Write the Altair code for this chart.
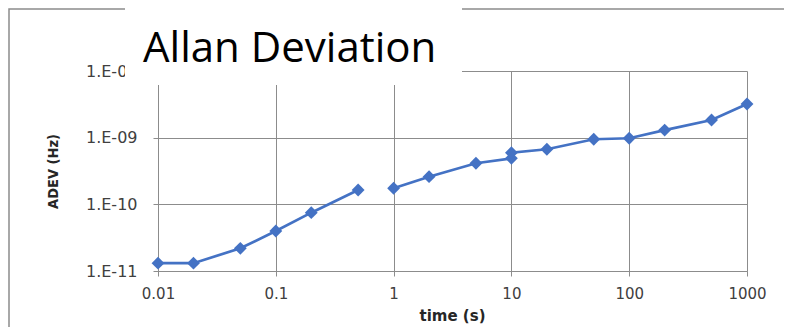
import altair as alt
import pandas as pd

# ---- data ----
tau = [0.01, 0.02, 0.05, 0.1, 0.2, 0.5,
       1, 2, 5, 10, 10, 20, 50, 100, 200, 500, 1000]
adev = [1.31e-11, 1.31e-11, 2.19e-11, 3.98e-11, 7.5e-11, 1.64e-10,
        1.74e-10, 2.6e-10, 4.13e-10, 4.9e-10, 5.96e-10, 6.7e-10, 9.46e-10,
        9.8e-10, 1.3e-9, 1.84e-9, 3.2e-9]
segment = ["a"] * 6 + ["b"] * 11

x_ticks = [0.01, 0.1, 1, 10, 100, 1000]
x_tick_labels = ["0.01", "0.1", "1", "10", "100", "1000"]
y_ticks = [1e-11, 1e-10, 1e-9, 1e-8]
y_tick_labels = ["1.E-11", "1.E-10", "1.E-09", "1.E-08"]

title_text = "Allan Deviation"
x_title = "time (s)"
y_title = "ADEV (Hz)"

df = pd.DataFrame({"tau": tau, "adev": adev, "seg": segment,
                   "idx": list(range(len(tau)))})

def label_expr(vals, labels):
    parts = []
    for v, l in zip(vals, labels):
        parts.append(f"abs(datum.value - {v!r}) < {abs(v) * 1e-6!r} ? '{l}'")
    return " : ".join(parts) + " : ''"

GRID = "#8c8c8c"
BLUE = "#4472C4"

x_enc = alt.X(
    "tau:Q",
    scale=alt.Scale(type="log", domain=[0.01, 1000], nice=False),
    axis=alt.Axis(
        values=x_ticks, labelExpr=label_expr(x_ticks, x_tick_labels),
        title=x_title, titleFont="DejaVu Sans", titleFontWeight="bold",
        titleFontSize=15, titleColor="#262626", titleBaseline="middle",
        titleX=294, titleY=44,
        labelFont="DejaVu Sans", labelFontSize=15, labelColor="#404040",
        labelPadding=10, tickSize=5, labelFlush=False,
        grid=True, gridColor=GRID, domainColor=GRID, tickColor=GRID,
    ),
)
y_enc = alt.Y(
    "adev:Q",
    scale=alt.Scale(type="log", domain=[1e-11, 1e-8], nice=False),
    axis=alt.Axis(
        values=y_ticks, labelExpr=label_expr(y_ticks, y_tick_labels),
        title=y_title, titleFont="DejaVu Sans Condensed, DejaVu Sans, sans-serif",
        titleFontWeight="bold",
        titleFontSize=14.5, titleColor="#262626", titleBaseline="middle",
        titleX=-105, titleY=100, titleAlign="center",
        labelFont="DejaVu Sans", labelFontSize=16, labelColor="#404040",
        labelPadding=16, tickSize=5, labelFlush=False,
        grid=True, gridColor=GRID, domainColor=GRID, tickColor=GRID,
    ),
)

base = alt.Chart(df)

line = base.mark_line(color=BLUE, strokeWidth=2.7).encode(
    x=x_enc, y=y_enc, detail="seg:N", order="idx:Q")
pts = base.mark_point(shape="diamond", filled=True, size=165,
                      color=BLUE, opacity=1).encode(x="tau:Q", y="adev:Q")

one = alt.Chart(pd.DataFrame({"k": [0]}))
border = one.mark_rect(fill="white", fillOpacity=0, stroke="#8c8c8c",
                       strokeWidth=1.5).encode(
    x=alt.value(-149), x2=alt.value(700), y=alt.value(-62), y2=alt.value(400))
cover = one.mark_rect(fill="white").encode(
    x=alt.value(-33), x2=alt.value(304), y=alt.value(-75), y2=alt.value(14))
title = one.mark_text(text=title_text, font="Open Sans", fontSize=42,
                      color="black", align="left",
                      baseline="alphabetic").encode(
    x=alt.value(-15), y=alt.value(-9))

chart = alt.layer(border, line, pts, cover, title).properties(
    width=589, height=200,
    padding={"left": 150, "top": 63, "right": 37, "bottom": 56},
    autosize=alt.AutoSizeParams(type="none"),
    background="white",
).configure_view(strokeWidth=0)

chart.save("out.html", embed_options={"renderer": "svg", "actions": False})
